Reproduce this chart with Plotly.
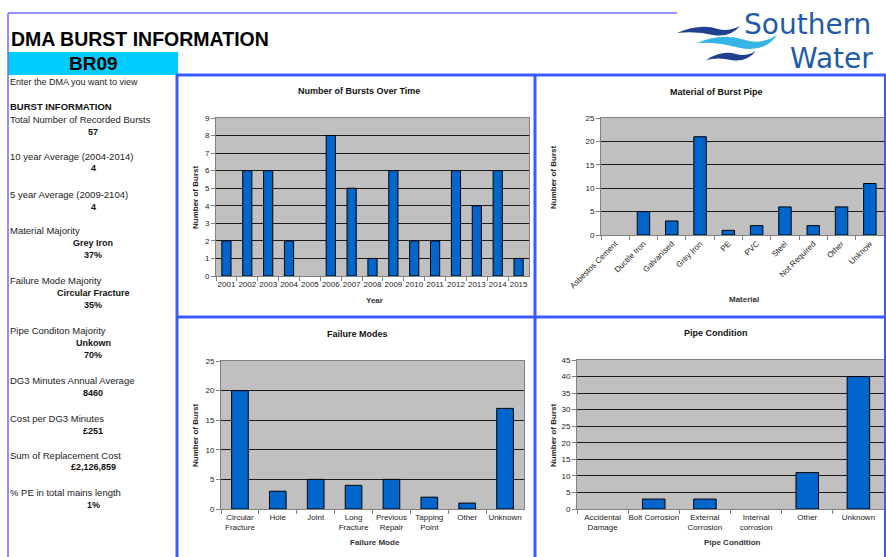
import plotly.graph_objects as go

W, H = 886, 557

# ---------------- data ----------------
years = ["2001", "2002", "2003", "2004", "2005", "2006", "2007", "2008",
         "2009", "2010", "2011", "2012", "2013", "2014", "2015"]
bursts = [2, 6, 6, 2, 0, 8, 5, 1, 6, 2, 2, 6, 4, 6, 1]

materials = ["Asbestos Cement", "Ductile Iron", "Galvanised", "Grey Iron", "PE",
             "PVC", "Steel", "Not Required", "Other", "Unknow"]
material_counts = [0, 5, 3, 21, 1, 2, 6, 2, 6, 11]

failure_modes = ["Circular<br>Fracture", "Hole", "Joint", "Long<br>Fracture",
                 "Previous<br>Repair", "Tapping<br>Point", "Other", "Unknown"]
failure_counts = [20, 3, 5, 4, 5, 2, 1, 17]

conditions = ["Accidental<br>Damage", "Bolt Corrosion", "External<br>Corrosion",
              "Internal<br>corrosion", "Other", "Unknown"]
condition_counts = [0, 3, 3, 0, 11, 40]

info_labels = ["Total Number of Recorded Bursts", "10 year Average (2004-2014)",
               "5 year Average (2009-2104)", "Material Majority",
               "Failure Mode Majority", "Pipe Conditon Majority",
               "DG3 Minutes Annual Average", "Cost per DG3 Minutes",
               "Sum of Replacement Cost", "% PE in total mains length"]
info_values = [["57"], ["4"], ["4"], ["Grey Iron", "37%"],
               ["Circular Fracture", "35%"], ["Unkown", "70%"], ["8460"],
               ["£251"], ["£2,126,859"], ["1%"]]

# ---------------- helpers ----------------
def X(px):
    return px / W

def Y(py):
    return 1 - py / H

FONT = "Liberation Sans, Arial, sans-serif"
BAR = "#0066CC"
BORDER = "#3B5BFF"

fig = go.Figure()

panels = [
    dict(x=years, y=bursts, dom_x=(216, 529), dom_y=(118, 276), rng=9, dt=1,
         title="Number of Bursts Over Time", tpos=(359, 91),
         xt="Year", xtpos=(374, 300), ytpos=(195, 198), angle=0),
    dict(x=materials, y=material_counts, dom_x=(601, 884), dom_y=(118, 235), rng=25, dt=5,
         title="Material of Burst Pipe", tpos=(716, 92),
         xt="Material", xtpos=(744, 299), ytpos=(553, 178), angle=-45),
    dict(x=failure_modes, y=failure_counts, dom_x=(221, 524), dom_y=(361, 509), rng=25, dt=5,
         title="Failure Modes", tpos=(357, 334),
         xt="Failure Mode", xtpos=(375, 542), ytpos=(195, 436), angle=0),
    dict(x=conditions, y=condition_counts, dom_x=(577, 884), dom_y=(360, 509), rng=45, dt=5,
         title="Pipe Condition", tpos=(716, 333),
         xt="Pipe Condition", xtpos=(732, 542), ytpos=(553, 436), angle=0),
]

annotations = []
for i, p in enumerate(panels):
    n = "" if i == 0 else str(i + 1)
    outline = [1 if v > 0 else 0 for v in p["y"]]
    fig.add_trace(go.Bar(x=p["x"], y=p["y"], xaxis="x" + n, yaxis="y" + n,
                         marker=dict(color=BAR, line=dict(color="#000000", width=outline)),
                         showlegend=False, hoverinfo="x+y"))
    fig.layout["xaxis" + n] = dict(
        domain=[X(p["dom_x"][0]), X(p["dom_x"][1])], anchor="y" + n,
        type="category", tickson="boundaries", ticks="outside", ticklen=4,
        tickcolor="#808080", showline=True, linecolor="#808080", mirror=True,
        showgrid=False, tickangle=p["angle"], automargin=False,
        tickfont=dict(family=FONT, size=8, color="#222222"), fixedrange=True)
    fig.layout["yaxis" + n] = dict(
        domain=[Y(p["dom_y"][1]), Y(p["dom_y"][0])], anchor="x" + n,
        range=[0, p["rng"]], dtick=p["dt"], ticks="outside", ticklen=4,
        tickcolor="#808080", showline=True, linecolor="#808080", mirror=True,
        showgrid=True, gridcolor="#1a1a1a", gridwidth=1, zeroline=False,
        automargin=False,
        tickfont=dict(family=FONT, size=8, color="#222222"), fixedrange=True)
    annotations.append(dict(text="<b>" + p["title"] + "</b>", x=X(p["tpos"][0]), y=Y(p["tpos"][1]),
                            xref="paper", yref="paper", showarrow=False,
                            xanchor="center", yanchor="middle",
                            font=dict(family=FONT, size=9, color="#111111")))
    annotations.append(dict(text="<b>" + p["xt"] + "</b>", x=X(p["xtpos"][0]), y=Y(p["xtpos"][1]),
                            xref="paper", yref="paper", showarrow=False,
                            xanchor="center", yanchor="middle",
                            font=dict(family=FONT, size=8, color="#333333")))
    annotations.append(dict(text="<b>Number of Burst</b>", x=X(p["ytpos"][0]), y=Y(p["ytpos"][1]),
                            xref="paper", yref="paper", showarrow=False, textangle=-90,
                            xanchor="center", yanchor="middle",
                            font=dict(family=FONT, size=8, color="#222222")))

# ---------------- left info panel ----------------
def txt(s, x, y, size=9.5, bold=False, anchor="left", color="#222222"):
    annotations.append(dict(text=("<b>%s</b>" % s) if bold else s, x=X(x), y=Y(y),
                            xref="paper", yref="paper", showarrow=False,
                            xanchor=anchor, yanchor="middle",
                            font=dict(family=FONT, size=size, color=color)))

txt("DMA BURST INFORMATION", 9, 39, size=19.5, bold=True, color="#000000")
txt("BR09", 93, 63, size=19, bold=True, anchor="center", color="#000000")
txt("Enter the DMA you want to view", 8, 82, size=9)
txt("BURST INFORMATION", 8, 106, size=9.5, bold=True, color="#111111")

label_y = [119, 156, 194, 230, 280, 330, 380, 418, 455, 492]
for lab, vals, ly in zip(info_labels, info_values, label_y):
    txt(lab, 8, ly)
    for k, v in enumerate(vals):
        txt(v, 93, ly + 12.5 * (k + 1), size=9, bold=True, anchor="center", color="#111111")

# ---------------- logo text ----------------
LOGO_FONT = "DejaVu Sans, Verdana, sans-serif"
annotations.append(dict(text="Southern", x=X(742), y=Y(24.3), xref="paper", yref="paper",
                        showarrow=False, xanchor="left", yanchor="middle",
                        font=dict(family=LOGO_FONT, size=28, color="#1F5BA6")))
annotations.append(dict(text="Water", x=X(788), y=Y(58.8), xref="paper", yref="paper",
                        showarrow=False, xanchor="left", yanchor="middle",
                        font=dict(family=LOGO_FONT, size=28, color="#1F5BA6")))

# ---------------- shapes ----------------
shapes = []

def line(x0, y0, x1, y1, color=BORDER, width=3):
    shapes.append(dict(type="line", xref="paper", yref="paper",
                       x0=X(x0), y0=Y(y0), x1=X(x1), y1=Y(y1),
                       line=dict(color=color, width=width)))

# cyan DMA box
shapes.append(dict(type="rect", xref="paper", yref="paper", x0=X(8), x1=X(178),
                   y0=Y(75), y1=Y(52), fillcolor="#00CCFF", line=dict(width=0), layer="below"))
# thin outer page border
line(8, 13, 677, 13, color="#6A6AFF", width=1.5)
line(8, 13, 8, 557, color="#6A6AFF", width=1.5)
# thick panel borders
line(176, 75, 886, 75)
line(176, 317, 886, 317)
line(177, 75, 177, 557)
line(535, 75, 535, 557)
line(885, 75, 885, 557, width=2)

def P(x, y):
    return "%.5f,%.5f" % (X(x), Y(y))

# logo waves
waves = [
    ("#1F3F8F", "M " + P(677, 33) + " Q " + P(700, 23) + " " + P(718, 29) +
     " Q " + P(728, 32) + " " + P(740, 26) + " Q " + P(730, 38) + " " + P(713, 35) +
     " Q " + P(697, 31) + " " + P(677, 33) + " Z"),
    ("#33B5E5", "M " + P(697, 43) + " Q " + P(722, 32) + " " + P(745, 40) +
     " Q " + P(762, 45) + " " + P(777, 35) + " Q " + P(765, 53) + " " + P(740, 48) +
     " Q " + P(718, 42) + " " + P(697, 43) + " Z"),
    ("#1F3F8F", "M " + P(706, 60) + " Q " + P(722, 50) + " " + P(736, 54) +
     " Q " + P(746, 57) + " " + P(756, 51) + " Q " + P(746, 63) + " " + P(731, 60) +
     " Q " + P(718, 57) + " " + P(706, 60) + " Z"),
]
for col, d in waves:
    shapes.append(dict(type="path", xref="paper", yref="paper", path=d,
                       fillcolor=col, line=dict(width=0)))

fig.update_layout(
    width=W, height=H, margin=dict(l=0, r=0, t=0, b=0, autoexpand=False),
    paper_bgcolor="#FFFFFF", plot_bgcolor="#C0C0C0",
    bargap=0.56, showlegend=False,
    annotations=annotations, shapes=shapes,
    font=dict(family=FONT),
)

fig.write_html("out.html")
